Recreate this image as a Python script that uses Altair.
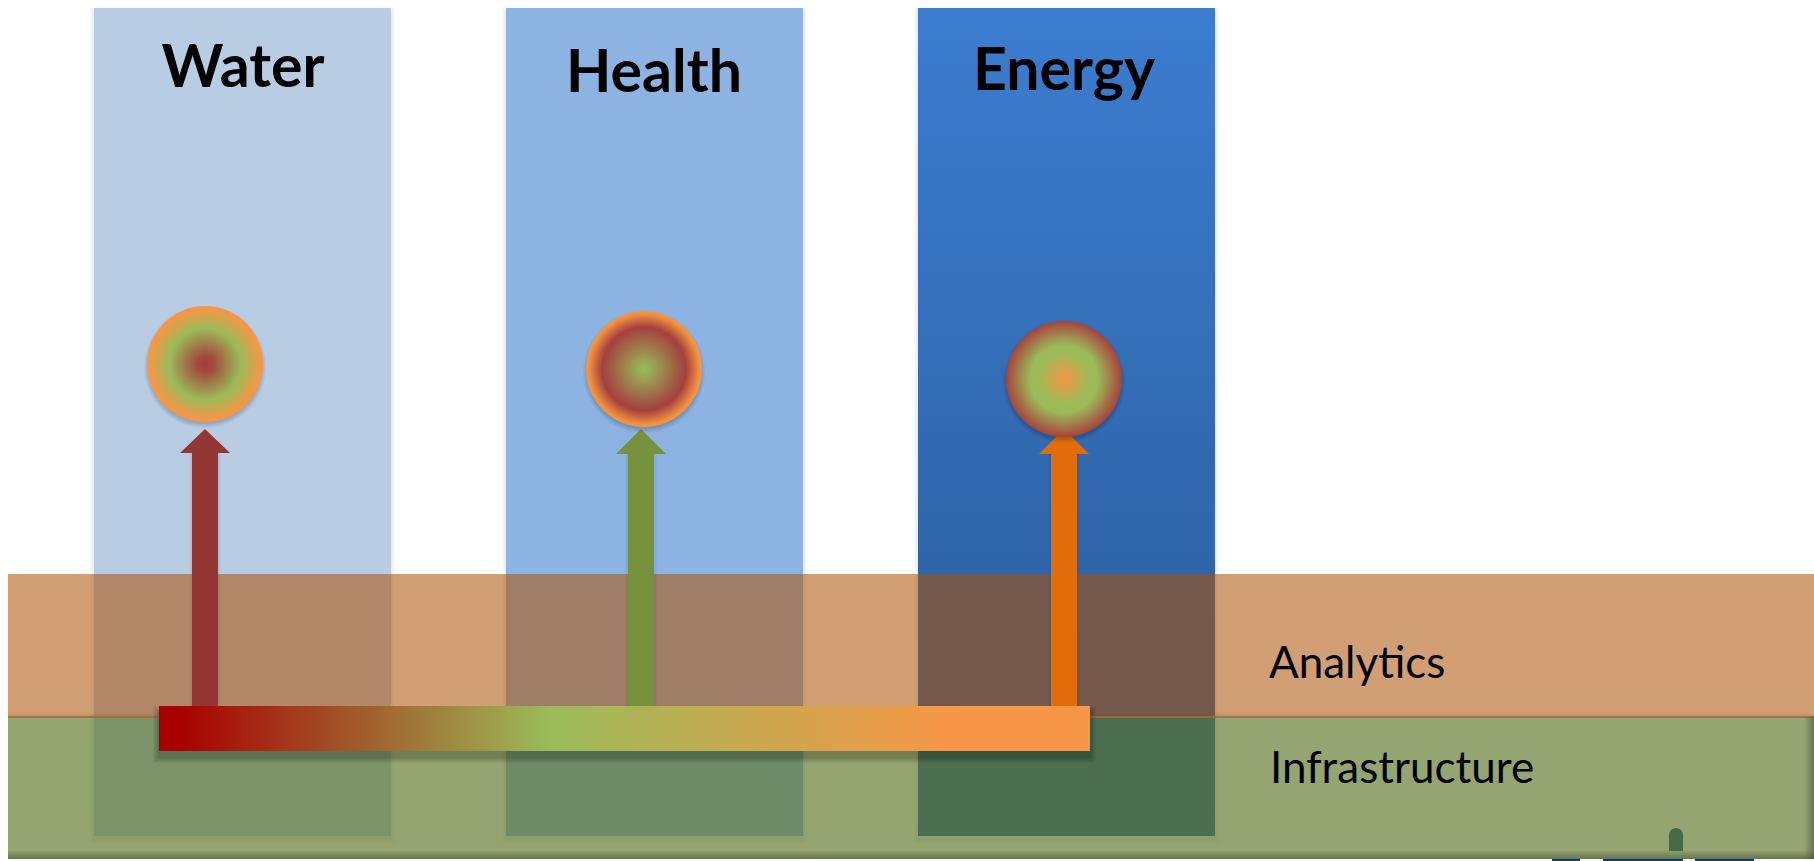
import altair as alt
import pandas as pd

# Canvas units: the diagram is laid out on a 1814 x 861 grid, y running downwards.
CANVAS_W = 1814
CANVAS_H = 861

column_names = ["Water", "Health", "Energy"]
column_left = [94, 506, 918]
column_right = [391, 803, 1215]
column_top = [8, 8, 8]
column_bottom = [836, 836, 836]
column_label_x = [243, 654, 1064]
column_label_y = [87, 92, 90]

layer_names = ["Analytics", "Infrastructure"]
layer_top = [574, 717]
layer_bottom = [717, 859]
layer_left = [8, 8]
layer_right = [1814, 1814]
layer_label_x = [1269, 1270]
layer_label_y = [678, 783]
layer_colors = ["#AF5207", "#5D7728"]
layer_opacity = [0.56, 0.66]

arrow_colors = ["#943634", "#76923C", "#E36C0A"]
arrow_center = [205, 641, 1064]
arrow_half_shaft = [13, 13, 13]
arrow_half_head = [25, 25, 25]
arrow_tip = [429, 429, 429]
arrow_shoulder = [453, 454, 454]
arrow_foot = [706, 706, 706]

circle_x = [205, 644, 1064]
circle_y = [364, 369, 379]
circle_radius = 58
circle_stops = [
    [(0.0, "#A83A3A"), (0.14, "#A34A3E"), (0.62, "#9BBB59"), (0.96, "#F79646"), (1.0, "#F79646")],
    [(0.0, "#96C05A"), (0.72, "#A4403F"), (0.95, "#F0903F"), (1.0, "#F79646")],
    [(0.0, "#F79646"), (0.45, "#9BBB59"), (0.58, "#9BBB59"), (1.0, "#A8433C")],
]

bar_left, bar_right = 159, 1090
bar_top, bar_bottom = 706, 751
bar_stops = [(0.0, "#A80000"), (0.02, "#A80000"), (0.42, "#9BBB59"), (0.85, "#F79646"), (1.0, "#F79646")]

logo_left = [1552, 1603, 1695]
logo_right = [1580, 1683, 1754]
logo_top = [859, 859, 859]
logo_bottom = [861, 861, 861]
logo_stem_x = [1676]
logo_stem_top = [828]
logo_stem_bottom = [851]

X = alt.Scale(domain=[0, CANVAS_W], nice=False, zero=False)
Y = alt.Scale(domain=[CANVAS_H, 0], nice=False, zero=False)


def linear(stops, vertical=False):
    return alt.LinearGradient(
        gradient="linear",
        stops=[alt.GradientStop(offset=o, color=c) for o, c in stops],
        x1=0, y1=0,
        x2=0 if vertical else 1,
        y2=1 if vertical else 0,
    )


def radial(stops):
    return alt.RadialGradient(
        gradient="radial",
        stops=[alt.GradientStop(offset=o, color=c) for o, c in stops],
        x1=0.5, y1=0.5, r1=0, x2=0.5, y2=0.5, r2=0.5,
    )


def box(left, right, top, bottom, **mark):
    frame = pd.DataFrame({"x": left, "x2": right, "y": top, "y2": bottom})
    return alt.Chart(frame).mark_rect(**mark).encode(
        x=alt.X("x:Q", scale=X, axis=None),
        x2="x2:Q",
        y=alt.Y("y:Q", scale=Y, axis=None),
        y2="y2:Q",
    )


def soft_shadow(left, right, top, bottom, spread=5, drop=2, alpha=0.035):
    # A blur is approximated by nested translucent boxes.
    parts = []
    for k in range(1, spread + 1):
        parts.append(box(
            [v - k for v in left], [v + k for v in right],
            [v - k + drop for v in top], [v + k + drop for v in bottom],
            color="#000000", opacity=alpha,
        ))
    return parts


def label(text, x, y, size, weight, align):
    frame = pd.DataFrame({"x": x, "y": y, "t": text})
    return alt.Chart(frame).mark_text(
        font="Lato", fontSize=size, fontWeight=weight, align=align,
        baseline="alphabetic", color="#000000",
    ).encode(
        x=alt.X("x:Q", scale=X, axis=None),
        y=alt.Y("y:Q", scale=Y, axis=None),
        text="t:N",
    )


layers = []

# Vertical application columns.
layers += soft_shadow(column_left, column_right, column_top, column_bottom, spread=4, drop=3, alpha=0.018)
layers.append(box(column_left[:1], column_right[:1], column_top[:1], column_bottom[:1], color="#B8CCE4"))
layers.append(box(column_left[1:2], column_right[1:2], column_top[1:2], column_bottom[1:2], color="#8DB3E2"))
layers.append(box(
    column_left[2:], column_right[2:], column_top[2:], column_bottom[2:],
    color=linear([(0, "#3C7DD0"), (0.68, "#2F65A9"), (1, "#2C5F9E")], vertical=True),
))

# Horizontal layers laid over the columns.
for i in range(2):
    layers.append(box(
        layer_left[i:i + 1], layer_right[i:i + 1], layer_top[i:i + 1], layer_bottom[i:i + 1],
        color=layer_colors[i], opacity=layer_opacity[i],
    ))

# Seam between the layers and the darkened rim of the lower one.
layers.append(box([8], [1814], [712], [716], color=linear([(0, "rgba(120,70,20,0)"), (1, "rgba(120,70,20,0.18)")], vertical=True)))
layers.append(box([8], [1814], [716], [718], color="#9C6F38", opacity=0.85))
layers.append(box([8], [1814], [850], [859], color=linear([(0, "rgba(40,50,30,0)"), (1, "rgba(40,50,30,0.42)")], vertical=True)))
layers.append(box([1804], [1814], [717], [859], color=linear([(0, "rgba(40,50,30,0)"), (1, "rgba(40,50,30,0.42)")])))

# Logo pieces cut off by the lower edge.
layers.append(box(logo_left, logo_right, logo_top, logo_bottom, color="#0B3C6F"))
layers.append(box(
    [v - 7 for v in logo_stem_x], [v + 7 for v in logo_stem_x],
    [v + 7 for v in logo_stem_top], logo_stem_bottom, color="#486B47",
))
layers.append(alt.Chart(pd.DataFrame({"x": logo_stem_x, "y": [v + 7 for v in logo_stem_top]})).mark_point(
    filled=True, shape="circle", size=196, color="#486B47", opacity=1, strokeWidth=0,
).encode(x=alt.X("x:Q", scale=X, axis=None), y=alt.Y("y:Q", scale=Y, axis=None)))

# Arrows rising from the bar to each circle.
for i in range(3):
    c = arrow_center[i]
    shaft = arrow_half_shaft[i]
    head = arrow_half_head[i]
    layers += soft_shadow([c - shaft], [c + shaft], [arrow_shoulder[i]], [arrow_foot[i]], spread=3, drop=1, alpha=0.02)
    layers.append(box([c - shaft], [c + shaft], [arrow_shoulder[i]], [arrow_foot[i]], color=arrow_colors[i]))
    head_frame = pd.DataFrame({
        "x": [c - head, c, c + head],
        "y": [arrow_shoulder[i], arrow_tip[i], arrow_shoulder[i]],
        "y2": [arrow_shoulder[i]] * 3,
    })
    layers.append(alt.Chart(head_frame).mark_area(color=arrow_colors[i], opacity=1).encode(
        x=alt.X("x:Q", scale=X, axis=None),
        y=alt.Y("y:Q", scale=Y, axis=None),
        y2="y2:Q",
    ))

# Horizontal gradient bar.
layers += soft_shadow([bar_left], [bar_right], [bar_top], [bar_bottom], spread=6, drop=6, alpha=0.04)
layers.append(box([bar_left], [bar_right], [bar_top], [bar_bottom], color=linear(bar_stops)))

# Radially shaded circles with a drop shadow.
for i in range(3):
    for k in range(1, 6):
        layers.append(alt.Chart(pd.DataFrame({"x": [circle_x[i]], "y": [circle_y[i] + 3]})).mark_point(
            filled=True, shape="circle", size=(2 * (circle_radius + k - 2)) ** 2,
            color="#000000", opacity=0.035, strokeWidth=0,
        ).encode(x=alt.X("x:Q", scale=X, axis=None), y=alt.Y("y:Q", scale=Y, axis=None)))
    layers.append(alt.Chart(pd.DataFrame({"x": [circle_x[i]], "y": [circle_y[i]]})).mark_point(
        filled=True, shape="circle", size=(2 * circle_radius) ** 2,
        fill=radial(circle_stops[i]), opacity=1, strokeWidth=0,
    ).encode(x=alt.X("x:Q", scale=X, axis=None), y=alt.Y("y:Q", scale=Y, axis=None)))

# Text labels.
layers.append(label(column_names, column_label_x, column_label_y, 59, "bold", "center"))
layers.append(label(layer_names, layer_label_x, layer_label_y, 44, "normal", "left"))

chart = alt.layer(*layers).properties(
    width=CANVAS_W,
    height=CANVAS_H,
    padding=0,
    autosize=alt.AutoSizeParams(type="none"),
    background="#FFFFFF",
).configure_view(stroke=None)

chart.save("out.html", embed_options={"renderer": "svg", "actions": False})
